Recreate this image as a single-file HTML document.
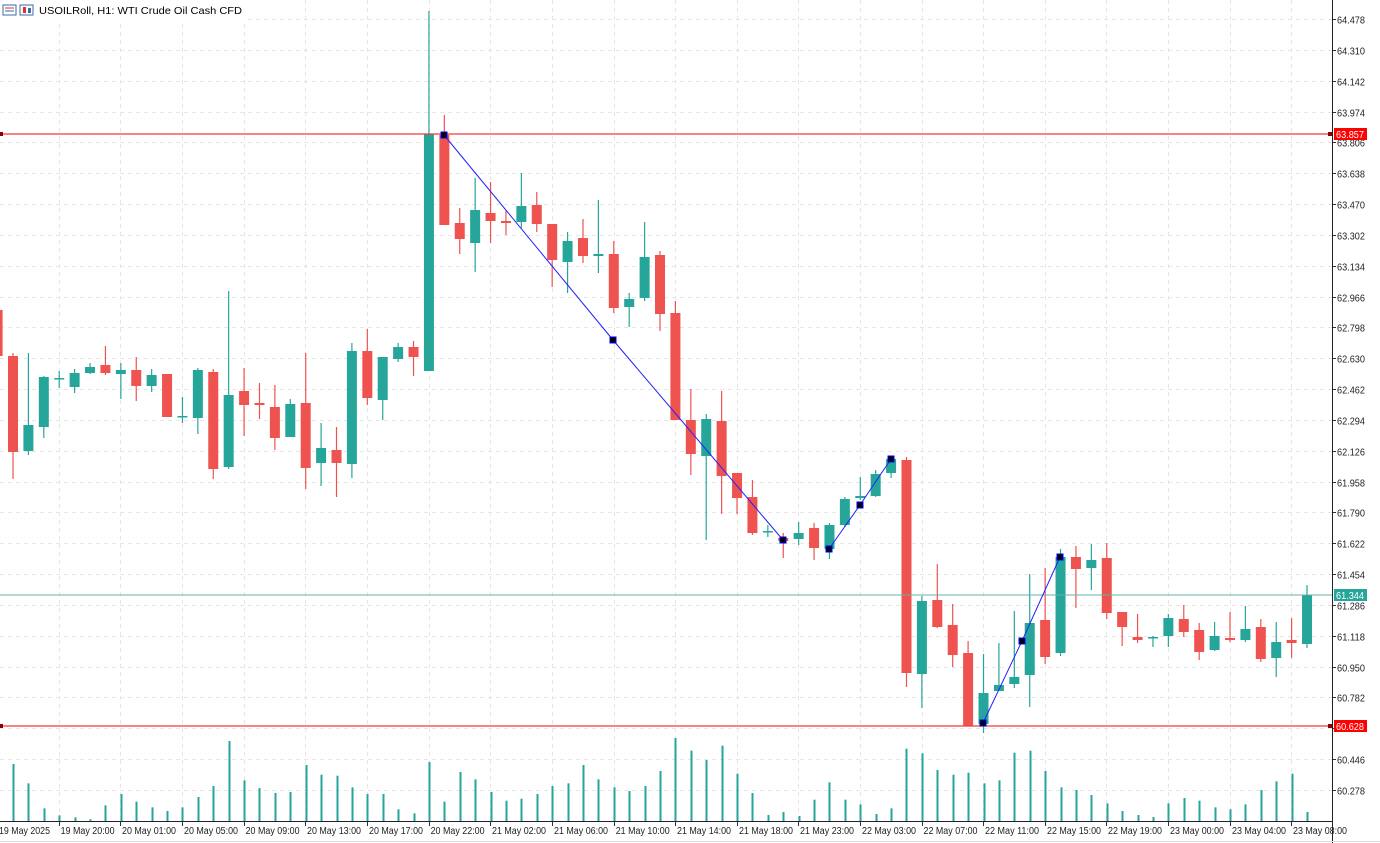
<!DOCTYPE html>
<html><head><meta charset="utf-8"><style>
html,body{margin:0;padding:0;background:#fff;overflow:hidden}
svg{display:block;font-family:"Liberation Sans",sans-serif}
</style></head><body>
<svg id="c" width="1380" height="843" xmlns="http://www.w3.org/2000/svg"></svg>
<script>
const G='#26a69a',R='#ef5350';
const C=[
[-1,'r',310,356,300,360],
[0,'r',356,452,353,479],[1,'g',425,451,353,455],[2,'g',377,427,376,438],[3,'g',378,379,371,388],
[4,'g',373,387,369,393],[5,'g',367,373,363,374],[6,'r',365,373,346,375],[7,'g',370,374,363,399],
[8,'r',370,386,357,401],[9,'g',375,386,369,392],[10,'r',374,417,374,417],[11,'g',416,417,397,423],
[12,'g',370,418,368,434],[13,'r',372,469,369,479],[14,'g',395,467,291,469],[15,'r',391,405,368,436],
[16,'r',403,405,383,419],[17,'r',407,438,385,450],[18,'g',404,437,399,437],[19,'r',403,468,353,489],
[20,'g',448,463,423,486],[21,'r',450,463,427,497],[22,'g',351,464,343,478],[23,'r',351,398,329,405],
[24,'g',357,400,357,420],[25,'g',347,359,343,362],[26,'r',347,357,341,376],[27,'g',134,371,11,371],
[28,'r',135,225,115,225],[29,'r',223,239,208,254],[30,'g',210,243,178,272],[31,'r',213,221,182,243],
[32,'r',221,223,211,235],[33,'g',206,222,173,228],[34,'r',205,224,192,232],[35,'r',224,260,224,287],
[36,'g',241,262,232,293],[37,'r',238,256,219,263],[38,'g',254,256,200,273],[39,'r',254,308,241,313],
[40,'g',299,307,293,327],[41,'g',257,298,222,301],[42,'r',255,314,251,331],[43,'r',313,420,301,420],
[44,'r',420,454,389,475],[45,'g',419,456,414,540],[46,'r',421,476,391,514],[47,'r',473,498,473,514],
[48,'r',497,533,480,535],[49,'g',531,532,525,537],[50,'r',538,541,533,558],[51,'g',533,539,522,545],
[52,'r',528,548,523,560],[53,'g',525,549,523,559],[54,'g',499,525,497,527],[55,'g',496,498,477,500],
[56,'g',474,496,470,497],[57,'g',459,473,458,478],[58,'r',460,673,457,687],[59,'g',601,674,596,708],
[60,'r',600,627,564,628],[61,'r',625,655,604,667],[62,'r',653,726,641,726],[63,'g',693,724,654,733],
[64,'g',685,691,643,691],[65,'g',677,684,611,688],[66,'g',623,675,574,707],[67,'r',620,657,568,664],
[68,'g',557,653,549,656],[69,'r',557,569,546,608],[70,'g',560,568,544,590],[71,'r',558,613,543,619],
[72,'r',612,627,612,646],[73,'r',637,640,614,643],[74,'g',637,638,636,647],[75,'g',618,636,614,647],
[76,'r',619,632,605,637],[77,'r',630,652,623,660],[78,'g',636,650,622,651],[79,'r',638,640,612,642],
[80,'g',629,640,606,642],[81,'r',627,659,619,662],[82,'g',642,658,622,677],[83,'r',640,643,618,658],
[84,'g',595,644,585,648]];
const V1=[102,160,235,256,262,268,226,192,215,232,243,232,201,168,33,151,174,189,186,105,134,137,172,192,192,238,250,96,215,126,148,186,212,206,192,168,160,105,148,172,183,168,123,24];
const V2=[62,90,47,131,189,255,246,258,209,157,209,223,252,235,56,70,120,134,128,160,151,68,62,123,172,180,195,220,243,255,261,220,204,212,232,238,223,180,154,131,246];
const X=i=>13+15.405*i;
let s='';
const ticks=['64.478','64.310','64.142','63.974','63.806','63.638','63.470','63.302','63.134','62.966','62.798','62.630','62.462','62.294','62.126','61.958','61.790','61.622','61.454','61.286','61.118','60.950','60.782','60.614','60.446','60.278'];
ticks.forEach((t,k)=>{const y=Math.round(19+k*30.84)+.5;
 s+=`<line x1="0" y1="${y}" x2="1332" y2="${y}" stroke="#e6e6e6" stroke-dasharray="4,4"/>`;
 s+=`<line x1="1332" y1="${y}" x2="1336" y2="${y}" stroke="#333"/>`;
 if(t!=='60.614') s+=`<text x="1337" y="${y+4}" font-size="10.5" fill="#222" textLength="28" lengthAdjust="spacingAndGlyphs">${t}</text>`;});
const tx=[-3,58.6,120,182,243.6,305,367,428.6,490,552,613.7,675,737,798,860,921.5,983,1045,1106,1168,1230,1291];
const tl=['19 May 2025','19 May 20:00','20 May 01:00','20 May 05:00','20 May 09:00','20 May 13:00','20 May 17:00','20 May 22:00','21 May 02:00','21 May 06:00','21 May 10:00','21 May 14:00','21 May 18:00','21 May 23:00','22 May 03:00','22 May 07:00','22 May 11:00','22 May 15:00','22 May 19:00','23 May 00:00','23 May 04:00','23 May 08:00'];
tx.forEach((x,k)=>{const xx=Math.round(x)+.5;
 s+=`<line x1="${xx}" y1="0" x2="${xx}" y2="821" stroke="#e6e6e6" stroke-dasharray="4,4"/>`;
 s+=`<line x1="${xx}" y1="821" x2="${xx}" y2="826" stroke="#333"/>`;
 s+=`<text x="${x+2}" y="834" font-size="10" fill="#222" textLength="${k==0?51:54}" lengthAdjust="spacingAndGlyphs">${tl[k]}</text>`;});
V1.forEach((v,i)=>{const x=Math.round(X(i))+.5;s+=`<line x1="${x}" y1="${730+v/3}" x2="${x}" y2="821" stroke="${G}" stroke-width="2"/>`;});
V2.forEach((v,j)=>{const i=44+j,x=Math.round(X(i))+.5;s+=`<line x1="${x}" y1="${730+v/3}" x2="${x}" y2="821" stroke="${G}" stroke-width="2"/>`;});
C.forEach(c=>{const x=X(c[0]),col=c[1]=='g'?G:R;
 s+=`<line x1="${x}" y1="${c[4]}" x2="${x}" y2="${c[5]}" stroke="${col}" stroke-width="1.2"/>`;
 const h=Math.max(1.5,c[3]-c[2]);
 s+=`<rect x="${x-5}" y="${c[2]}" width="10" height="${h}" fill="${col}"/>`;});
s+=`<line x1="0" y1="134" x2="1332" y2="134" stroke="#f23a3a" stroke-width="1.2"/>`;
s+=`<line x1="0" y1="726" x2="1332" y2="726" stroke="#f23a3a" stroke-width="1.2"/>`;
s+=`<line x1="0" y1="595" x2="1332" y2="595" stroke="#5fb3a6" stroke-width="1"/>`;
[[0,134],[1329,134],[0,726],[1329,726]].forEach(p=>s+=`<rect x="${p[0]-1}" y="${p[1]-2}" width="4" height="4" fill="#800"/>`);
const zz=[[[444,135],[613,340],[783,540]],[[829,549],[860,505],[891,459]],[[983,723],[1022,641],[1060,557]]];
zz.forEach(z=>{s+=`<polyline points="${z.map(p=>p.join(',')).join(' ')}" fill="none" stroke="#2020ff" stroke-width="1"/>`;
 z.forEach(p=>s+=`<rect x="${p[0]-3}" y="${p[1]-3}" width="6" height="6" fill="#000" stroke="#00f" stroke-width="1"/>`);});
s+=`<line x1="1332.5" y1="0" x2="1332.5" y2="843" stroke="#222"/>`;
s+=`<line x1="0" y1="821.5" x2="1332" y2="821.5" stroke="#222"/>`;
s+=`<line x1="0" y1="841.5" x2="1380" y2="841.5" stroke="#ddd"/>`;
s+=`<rect x="1334" y="128" width="33" height="12" fill="#f00"/><text x="1336" y="138" font-size="10.5" fill="#fff" textLength="28" lengthAdjust="spacingAndGlyphs">63.857</text>`;
s+=`<rect x="1334" y="720" width="33" height="12" fill="#f00"/><text x="1336" y="730" font-size="10.5" fill="#fff" textLength="28" lengthAdjust="spacingAndGlyphs">60.628</text>`;
s+=`<rect x="1334" y="589" width="33" height="12" fill="#26a69a"/><text x="1336" y="599" font-size="10.5" fill="#fff" textLength="28" lengthAdjust="spacingAndGlyphs">61.344</text>`;
s+=`<rect x="0" y="0" width="245" height="20" fill="#fff"/>`;
s+=`<rect x="3" y="5" width="13" height="10" fill="#fff" stroke="#3a6ea5"/><line x1="5" y1="8" x2="14" y2="8" stroke="#d33"/><line x1="5" y1="11" x2="14" y2="11" stroke="#3a6ea5"/>`;
s+=`<rect x="20" y="5" width="13" height="10" fill="#fff" stroke="#3a6ea5"/><rect x="23" y="7" width="3" height="6" fill="#d33"/><rect x="28" y="8" width="3" height="5" fill="#3a6ea5"/>`;
s+=`<text x="39" y="14" font-size="10.5" fill="#000" textLength="203" lengthAdjust="spacingAndGlyphs">USOILRoll, H1:  WTI Crude Oil Cash CFD</text>`;
document.getElementById('c').innerHTML=s;
</script>
</body></html>
